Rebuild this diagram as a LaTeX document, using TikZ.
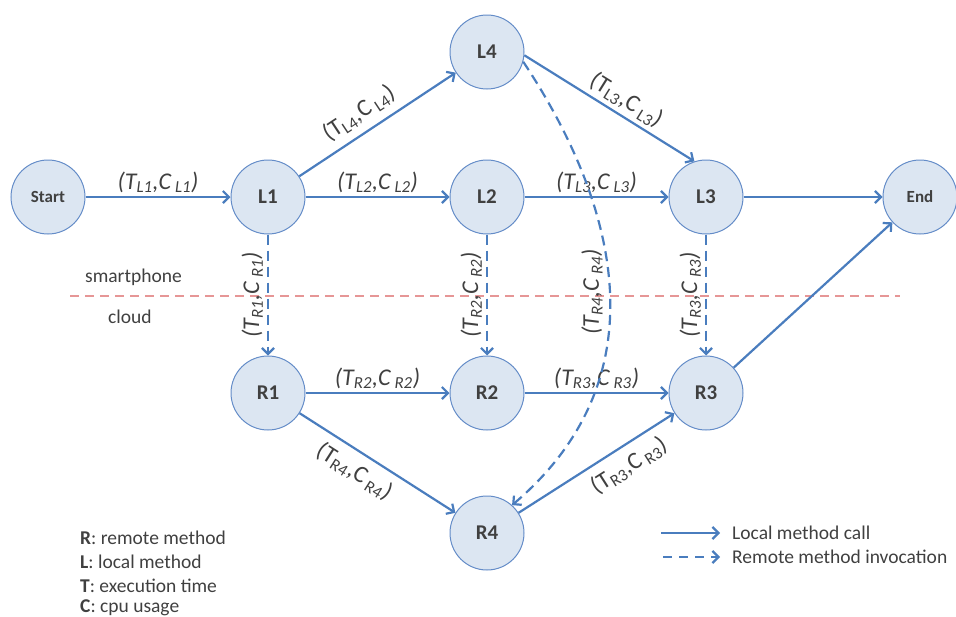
\documentclass[tikz,border=0pt]{standalone}
\usepackage{fontspec}
\setmainfont{Carlito}
\usetikzlibrary{arrows.meta}
\definecolor{nodefill}{RGB}{220,230,242}
\definecolor{nodeline}{RGB}{100,140,200}
\definecolor{arr}{RGB}{74,125,190}
\definecolor{txt}{RGB}{64,64,64}
\definecolor{sep}{RGB}{230,150,150}
\newcommand\lab[2]{(T\textsubscript{#1},C\,\textsubscript{#2})}
\tikzset{
  meth/.style={circle,draw=nodeline,fill=nodefill,line width=1pt,minimum size=74pt,inner sep=0pt,text=txt,font=\fontsize{21}{24}\selectfont\bfseries},
  term/.style={meth,font=\fontsize{17}{20}\selectfont\bfseries},
  call/.style={draw=arr,line width=2.2pt,-{Straight Barb[length=6pt,width=12pt,line width=2.2pt]}},
  remote/.style={call,dash pattern=on 10pt off 6pt},
  elab/.style={text=txt,font=\fontsize{24}{26}\selectfont\itshape,inner sep=3pt},
  elabu/.style={text=txt,font=\fontsize{24}{26}\selectfont,inner sep=8pt},
  vlab/.style={elab,rotate=90,anchor=south,inner sep=4pt},
  legtxt/.style={text=txt,font=\fontsize{19.5}{22}\selectfont,anchor=west,inner sep=0pt},
}
\begin{document}
\begin{tikzpicture}[x=1pt,y=-1pt]
\useasboundingbox (0,0) rectangle (956,616);
% separator
\draw[sep,line width=2pt,dash pattern=on 9pt off 6pt] (70,296) -- (900,296);
\node[legtxt] (sp) at (85,277) {smartphone};
\node[legtxt] (cl) at (108,317) {cloud};
% nodes
\node[term] (S) at (48,197) {Start};
\node[meth] (L1) at (268,197) {L1};
\node[meth] (L2) at (487,197) {L2};
\node[meth] (L3) at (706,197) {L3};
\node[meth] (L4) at (487,52) {L4};
\node[term] (E) at (920,197) {End};
\node[meth] (R1) at (268,393) {R1};
\node[meth] (R2) at (487,393) {R2};
\node[meth] (R3) at (706,393) {R3};
\node[meth] (R4) at (487,533) {R4};
% local calls
\draw[call] (S) -- node[elab,above] {\lab{L1}{L1}} (L1);
\draw[call] (L1) -- node[elabu,above,sloped,pos=0.45] {\lab{L4}{L4}} (L4);
\draw[call] (L1) -- node[elab,above] {\lab{L2}{L2}} (L2);
\draw[call] (L4.-5) -- node[elabu,above,sloped,pos=0.55,inner sep=4pt] {\lab{L3}{L3}} (L3.108);
\draw[call] (L2) -- node[elab,above] {\lab{L3}{L3}} (L3);
\draw[call] (L3) -- (E);
\draw[call] (R1) -- node[elab,above] {\lab{R2}{R2}} (R2);
\draw[call] (R2) -- node[elab,above] {\lab{R3}{R3}} (R3);
\draw[call] (R1) -- node[elabu,below,sloped,pos=0.42] {\lab{R4}{R4}} (R4);
\draw[call] (R4) -- node[elabu,below,sloped,pos=0.64] {\lab{R3}{R3}} (R3);
\draw[call] (R3) -- (E);
% remote calls
\draw[remote] (L1) -- node[vlab] {\lab{R1}{R1}} (R1);
\draw[remote] (L2) -- node[vlab] {\lab{R2}{R2}} (R2);
\draw[remote] (L3) -- node[vlab] {\lab{R3}{R3}} (R3);
\draw[remote] (L4.-15) .. controls (615,200) and (665,375) .. (R4.48);
\node[elab,rotate=90] (l44) at (592,292) {\lab{R4}{R4}};
% legends
\node[legtxt] (k1) at (80,538) {\textbf{R}: remote method};
\node[legtxt] (k2) at (80,562) {\textbf{L}: local method};
\node[legtxt] (k3) at (80,586) {\textbf{T}: execution time};
\node[legtxt] (k4) at (80,608) {\textbf{C}: cpu usage};
\coordinate (a1) at (661,533);
\coordinate (a2) at (720,533);
\coordinate (b1) at (663,557);
\coordinate (b2) at (720,557);
\draw[call] (a1) -- (a2);
\draw[remote,dash pattern=on 9pt off 7pt] (b1) -- (b2);
\node[legtxt] (t1) at (732,533) {Local method call};
\node[legtxt] (t2) at (732,557) {Remote method invocation};
\end{tikzpicture}
\end{document}
